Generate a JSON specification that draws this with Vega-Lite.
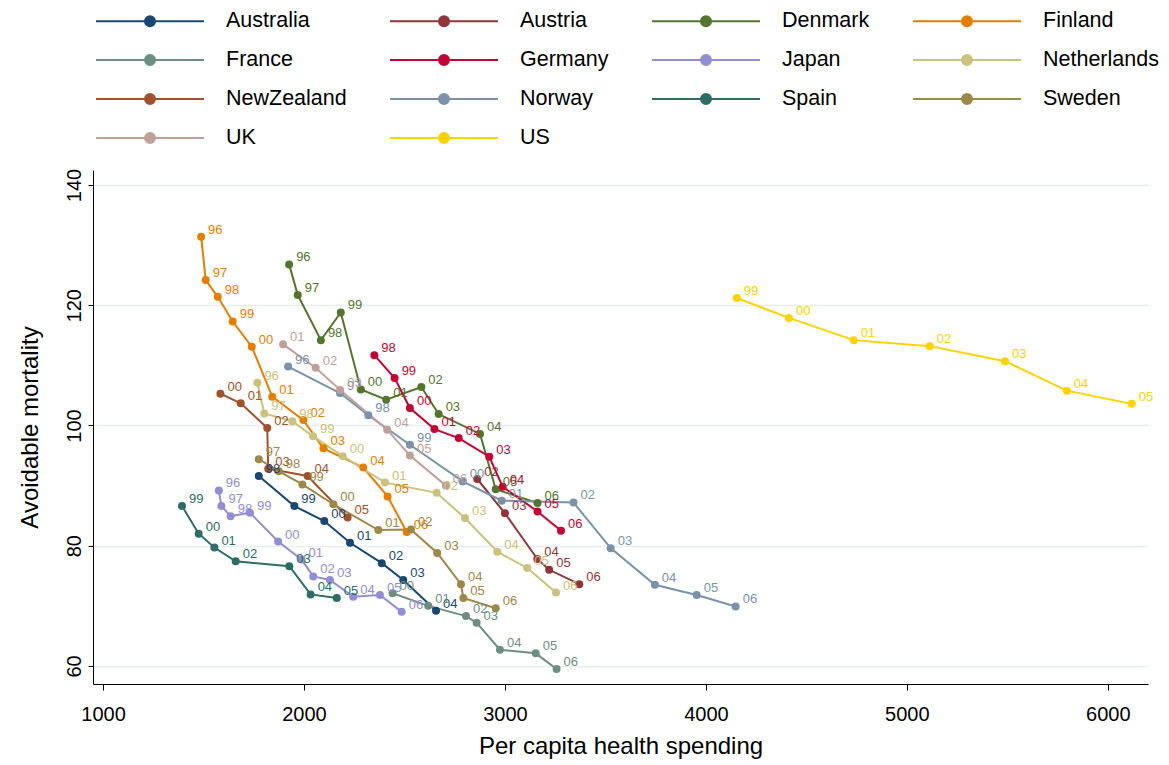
{
  "$schema": "https://vega.github.io/schema/vega-lite/v6.json",
  "width": 1055,
  "height": 514,
  "autosize": {"type": "none"},
  "padding": {"left": 93, "top": 170, "right": 21, "bottom": 81},
  "background": "white",
  "config": {"view": {"stroke": null}, "font": "Liberation Sans"},
  "data": {"values": [
    {"c":"Australia","t":1998,"yr":"98","x":1775,"y":91.6},
    {"c":"Australia","t":1999,"yr":"99","x":1952,"y":86.6},
    {"c":"Australia","t":2000,"yr":"00","x":2101,"y":84.1},
    {"c":"Australia","t":2001,"yr":"01","x":2229,"y":80.5},
    {"c":"Australia","t":2002,"yr":"02","x":2387,"y":77.1},
    {"c":"Australia","t":2003,"yr":"03","x":2494,"y":74.3},
    {"c":"Australia","t":2004,"yr":"04","x":2657,"y":69.2},
    {"c":"Austria","t":2002,"yr":"02","x":2862,"y":91.1},
    {"c":"Austria","t":2003,"yr":"03","x":3000,"y":85.4},
    {"c":"Austria","t":2004,"yr":"04","x":3161,"y":77.8},
    {"c":"Austria","t":2005,"yr":"05","x":3220,"y":76.0},
    {"c":"Austria","t":2006,"yr":"06","x":3370,"y":73.6},
    {"c":"Denmark","t":1996,"yr":"96","x":1926,"y":126.8},
    {"c":"Denmark","t":1997,"yr":"97","x":1969,"y":121.7},
    {"c":"Denmark","t":1998,"yr":"98","x":2084,"y":114.2},
    {"c":"Denmark","t":1999,"yr":"99","x":2183,"y":118.8},
    {"c":"Denmark","t":2000,"yr":"00","x":2283,"y":106.0},
    {"c":"Denmark","t":2001,"yr":"01","x":2409,"y":104.3},
    {"c":"Denmark","t":2002,"yr":"02","x":2584,"y":106.4},
    {"c":"Denmark","t":2003,"yr":"03","x":2670,"y":101.9},
    {"c":"Denmark","t":2004,"yr":"04","x":2876,"y":98.6},
    {"c":"Denmark","t":2005,"yr":"05","x":2954,"y":89.4},
    {"c":"Denmark","t":2006,"yr":"06","x":3162,"y":87.1},
    {"c":"Finland","t":1996,"yr":"96","x":1488,"y":131.4},
    {"c":"Finland","t":1997,"yr":"97","x":1511,"y":124.2},
    {"c":"Finland","t":1998,"yr":"98","x":1571,"y":121.4},
    {"c":"Finland","t":1999,"yr":"99","x":1645,"y":117.3},
    {"c":"Finland","t":2000,"yr":"00","x":1740,"y":113.1},
    {"c":"Finland","t":2001,"yr":"01","x":1842,"y":104.8},
    {"c":"Finland","t":2002,"yr":"02","x":1997,"y":100.9},
    {"c":"Finland","t":2003,"yr":"03","x":2097,"y":96.2},
    {"c":"Finland","t":2004,"yr":"04","x":2295,"y":93.0},
    {"c":"Finland","t":2005,"yr":"05","x":2416,"y":88.2},
    {"c":"Finland","t":2006,"yr":"06","x":2511,"y":82.3},
    {"c":"France","t":2000,"yr":"00","x":2441,"y":72.1},
    {"c":"France","t":2001,"yr":"01","x":2618,"y":70.0},
    {"c":"France","t":2002,"yr":"02","x":2806,"y":68.3},
    {"c":"France","t":2003,"yr":"03","x":2859,"y":67.2},
    {"c":"France","t":2004,"yr":"04","x":2975,"y":62.7},
    {"c":"France","t":2005,"yr":"05","x":3153,"y":62.1},
    {"c":"France","t":2006,"yr":"06","x":3257,"y":59.5},
    {"c":"Germany","t":1998,"yr":"98","x":2350,"y":111.7},
    {"c":"Germany","t":1999,"yr":"99","x":2451,"y":107.9},
    {"c":"Germany","t":2000,"yr":"00","x":2527,"y":102.9},
    {"c":"Germany","t":2001,"yr":"01","x":2649,"y":99.4},
    {"c":"Germany","t":2002,"yr":"02","x":2770,"y":97.9},
    {"c":"Germany","t":2003,"yr":"03","x":2922,"y":94.8},
    {"c":"Germany","t":2004,"yr":"04","x":2989,"y":89.8},
    {"c":"Germany","t":2005,"yr":"05","x":3162,"y":85.7},
    {"c":"Germany","t":2006,"yr":"06","x":3279,"y":82.5},
    {"c":"Japan","t":1996,"yr":"96","x":1576,"y":89.2},
    {"c":"Japan","t":1997,"yr":"97","x":1589,"y":86.6},
    {"c":"Japan","t":1998,"yr":"98","x":1635,"y":84.9},
    {"c":"Japan","t":1999,"yr":"99","x":1731,"y":85.5},
    {"c":"Japan","t":2000,"yr":"00","x":1871,"y":80.7},
    {"c":"Japan","t":2001,"yr":"01","x":1988,"y":77.7},
    {"c":"Japan","t":2002,"yr":"02","x":2046,"y":74.9},
    {"c":"Japan","t":2003,"yr":"03","x":2129,"y":74.3},
    {"c":"Japan","t":2004,"yr":"04","x":2245,"y":71.5},
    {"c":"Japan","t":2005,"yr":"05","x":2378,"y":71.8},
    {"c":"Japan","t":2006,"yr":"06","x":2486,"y":69.0},
    {"c":"Netherlands","t":1996,"yr":"96","x":1768,"y":107.1},
    {"c":"Netherlands","t":1997,"yr":"97","x":1802,"y":102.0},
    {"c":"Netherlands","t":1998,"yr":"98","x":1942,"y":100.7},
    {"c":"Netherlands","t":1999,"yr":"99","x":2045,"y":98.2},
    {"c":"Netherlands","t":2000,"yr":"00","x":2193,"y":94.9},
    {"c":"Netherlands","t":2001,"yr":"01","x":2403,"y":90.5},
    {"c":"Netherlands","t":2002,"yr":"02","x":2660,"y":88.8},
    {"c":"Netherlands","t":2003,"yr":"03","x":2801,"y":84.6},
    {"c":"Netherlands","t":2004,"yr":"04","x":2962,"y":79.0},
    {"c":"Netherlands","t":2005,"yr":"05","x":3111,"y":76.3},
    {"c":"Netherlands","t":2006,"yr":"06","x":3254,"y":72.2},
    {"c":"NewZealand","t":2000,"yr":"00","x":1584,"y":105.3},
    {"c":"NewZealand","t":2001,"yr":"01","x":1685,"y":103.7},
    {"c":"NewZealand","t":2002,"yr":"02","x":1817,"y":99.6},
    {"c":"NewZealand","t":2003,"yr":"03","x":1822,"y":92.8},
    {"c":"NewZealand","t":2004,"yr":"04","x":2018,"y":91.6},
    {"c":"NewZealand","t":2005,"yr":"05","x":2217,"y":84.7},
    {"c":"Norway","t":1996,"yr":"96","x":1921,"y":109.8},
    {"c":"Norway","t":1997,"yr":"97","x":2179,"y":105.4},
    {"c":"Norway","t":1998,"yr":"98","x":2320,"y":101.7},
    {"c":"Norway","t":1999,"yr":"99","x":2527,"y":96.8},
    {"c":"Norway","t":2000,"yr":"00","x":2790,"y":90.7},
    {"c":"Norway","t":2001,"yr":"01","x":2984,"y":87.5},
    {"c":"Norway","t":2002,"yr":"02","x":3341,"y":87.2},
    {"c":"Norway","t":2003,"yr":"03","x":3526,"y":79.6},
    {"c":"Norway","t":2004,"yr":"04","x":3746,"y":73.5},
    {"c":"Norway","t":2005,"yr":"05","x":3954,"y":71.8},
    {"c":"Norway","t":2006,"yr":"06","x":4148,"y":69.9},
    {"c":"Spain","t":1999,"yr":"99","x":1393,"y":86.6},
    {"c":"Spain","t":2000,"yr":"00","x":1476,"y":82.0},
    {"c":"Spain","t":2001,"yr":"01","x":1554,"y":79.7},
    {"c":"Spain","t":2002,"yr":"02","x":1660,"y":77.4},
    {"c":"Spain","t":2003,"yr":"03","x":1927,"y":76.6},
    {"c":"Spain","t":2004,"yr":"04","x":2033,"y":71.9},
    {"c":"Spain","t":2005,"yr":"05","x":2163,"y":71.3},
    {"c":"Sweden","t":1997,"yr":"97","x":1775,"y":94.4},
    {"c":"Sweden","t":1998,"yr":"98","x":1874,"y":92.4},
    {"c":"Sweden","t":1999,"yr":"99","x":1992,"y":90.2},
    {"c":"Sweden","t":2000,"yr":"00","x":2146,"y":86.9},
    {"c":"Sweden","t":2001,"yr":"01","x":2370,"y":82.6},
    {"c":"Sweden","t":2002,"yr":"02","x":2532,"y":82.7},
    {"c":"Sweden","t":2003,"yr":"03","x":2663,"y":78.8},
    {"c":"Sweden","t":2004,"yr":"04","x":2781,"y":73.6},
    {"c":"Sweden","t":2005,"yr":"05","x":2793,"y":71.3},
    {"c":"Sweden","t":2006,"yr":"06","x":2954,"y":69.6},
    {"c":"UK","t":2001,"yr":"01","x":1896,"y":113.5},
    {"c":"UK","t":2002,"yr":"02","x":2058,"y":109.6},
    {"c":"UK","t":2003,"yr":"03","x":2180,"y":105.9},
    {"c":"UK","t":2004,"yr":"04","x":2414,"y":99.3},
    {"c":"UK","t":2005,"yr":"05","x":2527,"y":95.0},
    {"c":"UK","t":2006,"yr":"06","x":2706,"y":90.0},
    {"c":"US","t":1999,"yr":"99","x":4154,"y":121.2},
    {"c":"US","t":2000,"yr":"00","x":4413,"y":117.9},
    {"c":"US","t":2001,"yr":"01","x":4736,"y":114.2},
    {"c":"US","t":2002,"yr":"02","x":5114,"y":113.2},
    {"c":"US","t":2003,"yr":"03","x":5488,"y":110.7},
    {"c":"US","t":2004,"yr":"04","x":5796,"y":105.8},
    {"c":"US","t":2005,"yr":"05","x":6119,"y":103.6}
  ]},
  "encoding": {
    "x": {"field": "x", "type": "quantitative",
      "scale": {"domain": [950, 6200], "nice": false, "zero": false},
      "axis": {"values": [1000, 2000, 3000, 4000, 5000, 6000], "format": "d", "grid": false,
        "title": "Per capita health spending", "titleFontSize": 24, "titleFontWeight": "normal", "titleColor": "#000", "titlePadding": 10,
        "labelFontSize": 20, "labelColor": "#000", "labelPadding": 14, "tickSize": 6, "tickColor": "#000", "domainColor": "#000"}},
    "y": {"field": "y", "type": "quantitative",
      "scale": {"domain": [57, 142.5], "nice": false, "zero": false},
      "axis": {"values": [60, 80, 100, 120, 140], "format": "d", "grid": true, "gridColor": "#e6eef0", "gridWidth": 1.5,
        "title": "Avoidable mortality", "titleFontSize": 24, "titleFontWeight": "normal", "titleColor": "#000", "titlePadding": 22,
        "labelFontSize": 20, "labelColor": "#000", "labelAngle": -90, "labelPadding": 4, "tickSize": 5, "tickColor": "#000", "domainColor": "#000"}},
    "color": {"field": "c", "type": "nominal",
      "scale": {"domain": ["Australia","Austria","Denmark","Finland","France","Germany","Japan","Netherlands","NewZealand","Norway","Spain","Sweden","UK","US"],
        "range": ["#1a476f","#90353b","#55752f","#e37e00","#6e8e84","#c10534","#938dd2","#cac27e","#a0522d","#7b92a8","#2d6d66","#9c8847","#bfa19c","#ffd200"]},
      "legend": {"orient": "none", "direction": "horizontal", "legendX": 46, "legendY": -160, "columns": 4, "title": null, "padding": 0,
        "symbolType": "M-5.4,0H5.4M-0.5,0A0.5,0.5,0,1,1,0.5,0A0.5,0.5,0,1,1,-0.5,0Z",
        "symbolSize": 400, "symbolStrokeWidth": 2, "symbolOpacity": 1,
        "labelFontSize": 21.5, "labelColor": "#000", "labelOffset": 65, "columnPadding": 39, "rowPadding": 17,
        "encode": {"symbols": {"update": {"fill": {"scale": "color", "field": "value"}, "stroke": {"scale": "color", "field": "value"}}}}}}
  },
  "layer": [
    {"mark": {"type": "line", "strokeWidth": 2}, "encoding": {"order": {"field": "t", "type": "quantitative"}}},
    {"mark": {"type": "point", "filled": true, "size": 64, "opacity": 1}},
    {"mark": {"type": "text", "align": "left", "baseline": "middle", "dx": 7, "dy": -7, "fontSize": 13}, "encoding": {"text": {"field": "yr", "type": "nominal"}}}
  ]
}
